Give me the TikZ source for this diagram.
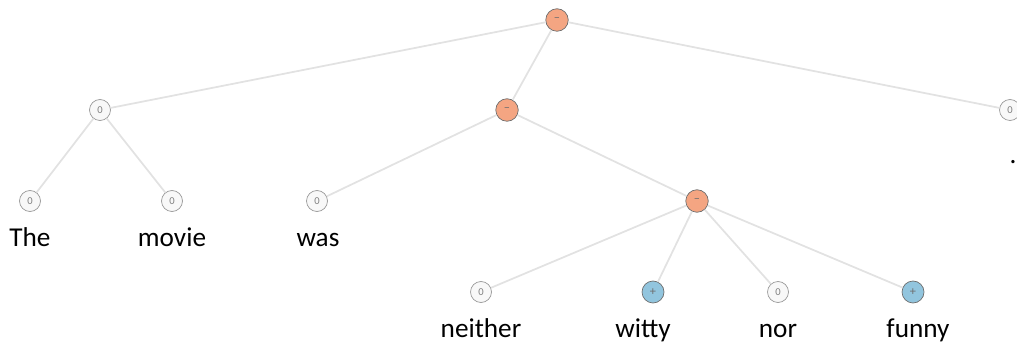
\documentclass[tikz,border=0pt]{standalone}
\usepackage{fontspec}
\setmainfont{Carlito}
\usepackage{tikz}
\usetikzlibrary{positioning}

\definecolor{negfill}{RGB}{244,165,130}
\definecolor{posfill}{RGB}{146,197,222}
\definecolor{neufill}{RGB}{248,248,248}
\definecolor{edgegray}{RGB}{226,226,226}
\definecolor{rimgray}{RGB}{110,110,110}

\begin{document}
\begin{tikzpicture}[x=0.02cm,y=-0.02cm]
\tikzstyle{every node}+=[inner sep=0pt]
\tikzstyle{neunode}=[circle,draw=gray!80,fill=neufill,minimum size=0.42cm,font=\fontsize{6}{6}\selectfont,text=gray]
\tikzstyle{negnode}=[circle,draw=rimgray,fill=negfill,minimum size=0.45cm,font=\fontsize{7}{7}\selectfont,text=rimgray]
\tikzstyle{posnode}=[circle,draw=rimgray,fill=posfill,minimum size=0.44cm,font=\fontsize{7}{7}\selectfont,text=rimgray]
\tikzstyle{word}=[anchor=base,font=\fontsize{15.5}{15.5}\selectfont]
\tikzstyle{edge}=[draw=edgegray,line width=1pt]
\useasboundingbox (0,0) rectangle (1017,344);
% sentiment nodes
\node [negnode] (root) at (557,20) {--};
\node [neunode] (left) at (100,110) {0};
\node [negnode] (mid) at (507,110) {--};
\node [neunode] (dot) at (1010,110) {0};
\node [neunode] (the) at (30,201) {0};
\node [neunode] (movie) at (172,201) {0};
\node [neunode] (was) at (317,201) {0};
\node [negnode] (nor2) at (697,201) {--};
\node [neunode] (neither) at (481,292) {0};
\node [posnode] (witty) at (653,292) {+};
\node [neunode] (nor) at (778,292) {0};
\node [posnode] (funny) at (913,292) {+};
% words
\node [word] (wthe) at (30,246) {The};
\node [word] (wmovie) at (172,246) {movie};
\node [word] (wwas) at (318,246) {was};
\node [word] (wdot) at (1013,164) {.};
\node [word] (wneither) at (481,337) {neither};
\node [word] (wwitty) at (643,337) {witty};
\node [word] (wnor) at (778,337) {nor};
\node [word] (wfunny) at (918,337) {funny};
% branches
\draw [edge] (root) -- (left);
\draw [edge] (root) -- (mid);
\draw [edge] (root) -- (dot);
\draw [edge] (left) -- (the);
\draw [edge] (left) -- (movie);
\draw [edge] (mid) -- (was);
\draw [edge] (mid) -- (nor2);
\draw [edge] (nor2) -- (neither);
\draw [edge] (nor2) -- (witty);
\draw [edge] (nor2) -- (nor);
\draw [edge] (nor2) -- (funny);
\end{tikzpicture}
\end{document}
